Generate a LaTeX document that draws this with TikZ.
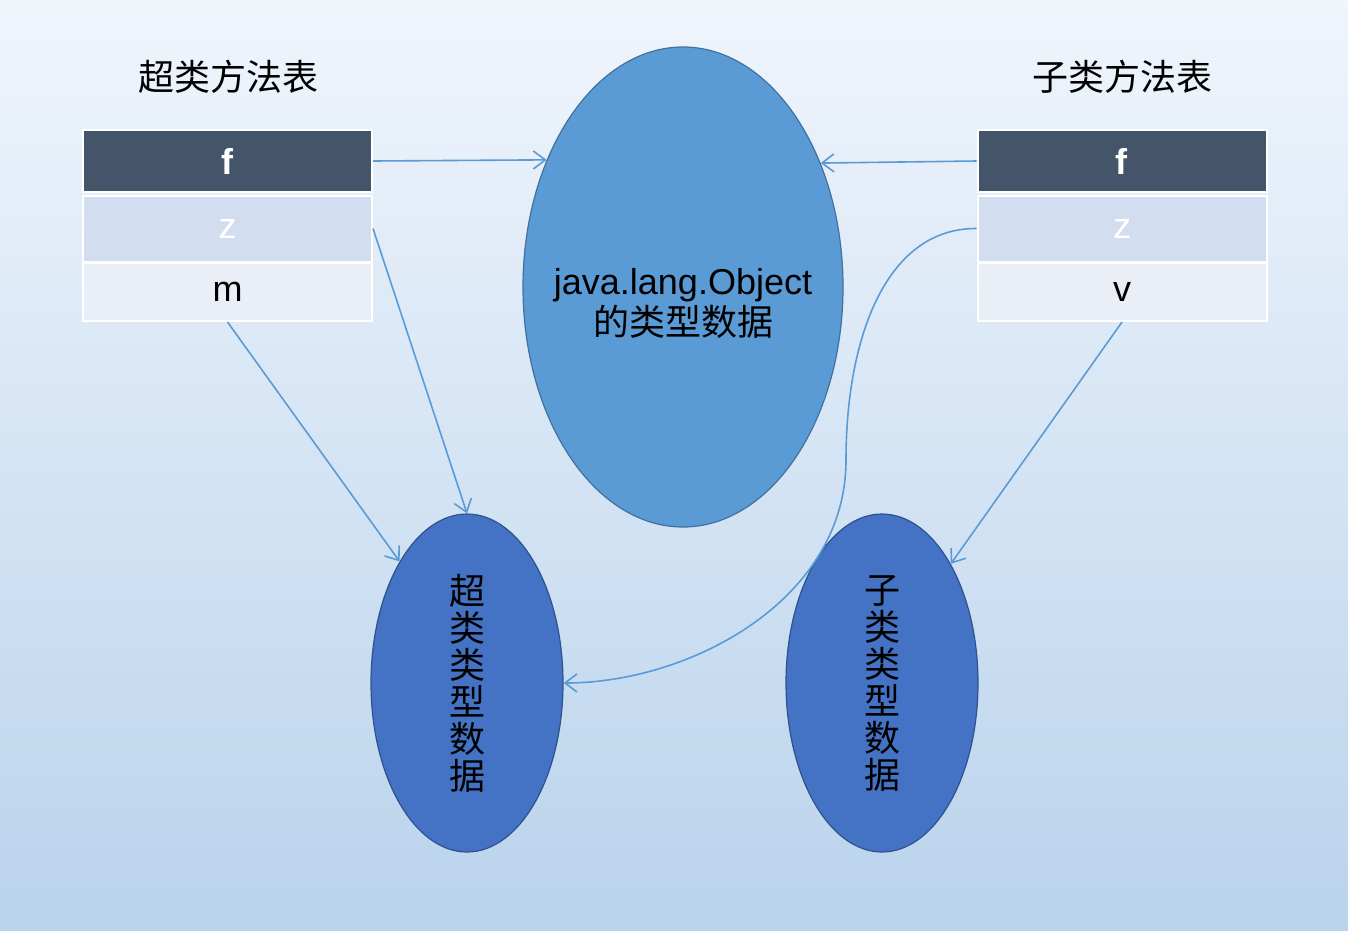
\documentclass[tikz,border=0pt]{standalone}
\usepackage{fontspec}
\setmainfont{Liberation Sans}
\newfontfamily\cjk{Noto Sans CJK SC}
\usetikzlibrary{arrows.meta,shapes.geometric}
\definecolor{bgtop}{HTML}{F0F5FC}
\definecolor{bgbot}{HTML}{B9D3EC}
\definecolor{rowdark}{HTML}{445469}
\definecolor{rowmid}{HTML}{D2DEEF}
\definecolor{rowlight}{HTML}{E9EEF7}
\definecolor{bigfill}{HTML}{5B9BD5}
\definecolor{bigdraw}{HTML}{41719C}
\definecolor{smallfill}{HTML}{4472C4}
\definecolor{smalldraw}{HTML}{2F528F}
\definecolor{conn}{HTML}{5B9BD5}
\tikzset{
  row/.style={rectangle, draw=white, line width=2pt, minimum width=289pt, inner sep=0pt, font=\fontsize{36}{40}\selectfont},
  rowf/.style={row, fill=rowdark, text=white, minimum height=62pt},
  rowz/.style={row, fill=rowmid, text=white, minimum height=66pt},
  rowm/.style={row, fill=rowlight, text=black, minimum height=58pt},
  title/.style={font=\cjk\fontsize{36}{40}\selectfont, text=black},
  bigell/.style={ellipse, fill=bigfill, draw=bigdraw, line width=1.2pt, minimum width=320pt, minimum height=480pt, inner sep=0pt},
  bigtext/.style={align=center, inner sep=0pt, font=\fontsize{36}{41}\selectfont},
  smallell/.style={ellipse, fill=smallfill, draw=smalldraw, line width=1.2pt, minimum width=192pt, minimum height=338pt, inner sep=0pt},
  vtext/.style={align=center, inner sep=0pt, font=\cjk\fontsize{36}{37}\selectfont},
  conn/.style={draw=conn, line width=1.6pt, -{Straight Barb[length=12pt,width=18pt,line width=1.6pt]}}
}
\begin{document}
\begin{tikzpicture}[x=1pt,y=-1pt]
\shade[top color=bgtop, bottom color=bgbot] (0,0) rectangle (1348,930);
\useasboundingbox (0,0) rectangle (1348,930);

\node[title] (lt) at (228,77) {超类方法表};
\node[title] (rt) at (1122,77) {子类方法表};

\node[rowf] (lf) at (227.5,161) {\textbf{f}};
\node[rowz] (lz) at (227.5,228.5) {z};
\node[rowm] (lm) at (227.5,292) {m};

\node[rowf] (rf) at (1122,161) {\textbf{f}};
\node[rowz] (rz) at (1122,228.5) {z};
\node[rowm] (rv) at (1122,292) {v};

\node[bigell] (big) at (683,287) {};
\node[bigtext] (bigt) at (683,303) {java.lang.Object\\{\cjk 的类型数据}};

\node[smallell] (ls) at (467,683) {};
\node[vtext] (lst) at (467,683) {超\\类\\类\\型\\数\\据};
\node[smallell] (rs) at (882,683) {};
\node[vtext] (rst) at (882,683) {子\\类\\类\\型\\数\\据};

\coordinate (mid) at (846,460);

\draw[conn] (lf.east) -- (big.137);
\draw[conn] (rf.west) -- (big.42);
\draw[conn] (lz.east) -- (ls.north);
\draw[conn] (lm.south) -- (ls.119);
\draw[conn] (rv.south) -- (rs.60);
\draw[conn] (rz.west) .. controls (885,228) and (846,340) .. (mid) .. controls (846,600) and (690,683) .. (ls.east);
\end{tikzpicture}
\end{document}
